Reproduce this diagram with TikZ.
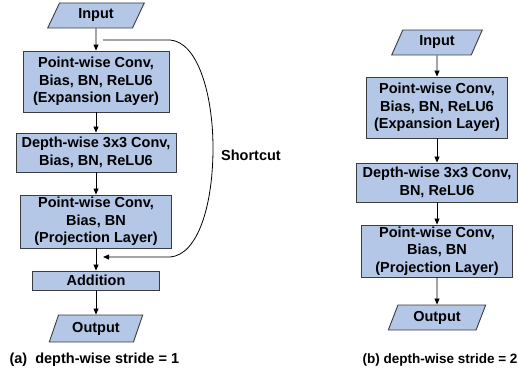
\documentclass[tikz,border=0pt]{standalone}
\usepackage{fontspec}
\setmainfont{Liberation Sans}
\usetikzlibrary{arrows.meta,shapes.geometric}
\definecolor{boxfill}{HTML}{B4C7E7}
\definecolor{boxline}{HTML}{3C3C3C}
\begin{document}
\begin{tikzpicture}
        [x=1pt, y=-1pt, >={Triangle[length=6pt,width=5pt]},
         txt/.style={font=\fontsize{14.5}{17.5}\selectfont\bfseries},
         layer/.style={txt, draw=boxline, fill=boxfill, line width=0.9pt, inner sep=1pt, align=center},
         io/.style={txt, trapezium, trapezium left angle=68, trapezium right angle=112,
                    trapezium stretches=true, draw=boxline, fill=boxfill, line width=0.9pt, inner sep=1pt}]
        \useasboundingbox (0,0) rectangle (518,374);
        % (a) stride 1, with shortcut
        \node [io, minimum width=97, minimum height=25] (inA) at (96,15.5) {Input};
        \node [layer, minimum width=146, minimum height=61] (expA) at (96,81.5) {Point-wise Conv,\\ Bias, BN, ReLU6\\ (Expansion Layer)};
        \node [layer, minimum width=160, minimum height=39] (dwA) at (96,152.5) {Depth-wise 3x3 Conv,\\ Bias, BN, ReLU6};
        \node [layer, minimum width=151, minimum height=53] (prjA) at (96,221.5) {Point-wise Conv,\\ Bias, BN\\ (Projection Layer)};
        \node [layer, minimum width=127, minimum height=19] (addA) at (96,280.5) {Addition};
        \node [io, minimum width=94, minimum height=27] (outA) at (96,328.5) {Output};
        \node [txt, anchor=west] (capA) at (6,360) {(a)~~depth-wise stride = 1};
        \draw[->, line width=0.8pt] (inA) -- (expA);
        \draw[->, line width=0.8pt] (expA) -- (dwA);
        \draw[->, line width=0.8pt] (dwA) -- (prjA);
        \draw[->, line width=0.8pt] (prjA) -- (addA);
        \draw[->, line width=0.8pt] (addA) -- (outA);
        % shortcut branch
        \coordinate (fork) at (103,40);
        \coordinate (merge) at (103,257);
        \node [txt] (sc) at (251,155) {Shortcut};
        \draw[->, line width=0.8pt] (fork) -- (170,40) .. controls (198,42) and (213,95) .. (213,148)
                                    .. controls (213,205) and (198,255) .. (170,257) -- (merge);
        % (b) stride 2, no shortcut
        \node [io, minimum width=91, minimum height=25] (inB) at (437,42.5) {Input};
        \node [layer, minimum width=141, minimum height=61] (expB) at (437,107.5) {Point-wise Conv,\\ Bias, BN, ReLU6\\ (Expansion Layer)};
        \node [layer, minimum width=161, minimum height=39] (dwB) at (437,182.5) {Depth-wise 3x3 Conv,\\ BN, ReLU6};
        \node [layer, minimum width=151, minimum height=52] (prjB) at (437,251) {Point-wise Conv,\\ Bias, BN\\ (Projection Layer)};
        \node [io, minimum width=98, minimum height=25] (outB) at (437,317.5) {Output};
        \node [txt, font=\fontsize{13.5}{16}\selectfont\bfseries, anchor=west] (capB) at (359,360) {(b) depth-wise stride = 2};
        \draw[->, line width=0.8pt] (inB) -- (expB);
        \draw[->, line width=0.8pt] (expB) -- (dwB);
        \draw[->, line width=0.8pt] (dwB) -- (prjB);
        \draw[->, line width=0.8pt] (prjB) -- (outB);
    \end{tikzpicture}
\end{document}
